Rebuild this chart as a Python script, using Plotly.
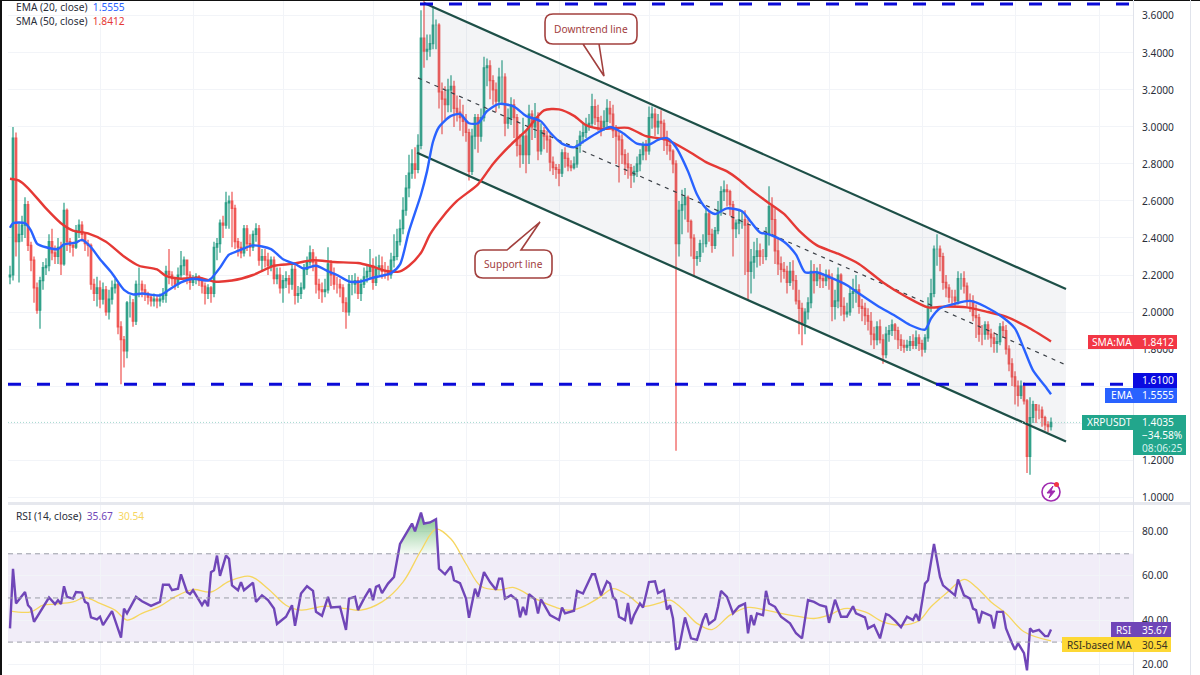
import plotly.graph_objects as go

# daily XRPUSDT candles
opens = [
    2.19,2.20,2.94,2.38,2.42,2.47,2.58,2.36,2.28,2.13,
    2.01,2.17,2.24,2.25,2.38,2.32,2.30,2.35,2.26,2.55,
    2.38,2.36,2.35,2.44,2.47,2.42,2.37,2.36,2.15,2.10,
    2.13,2.07,2.12,2.00,2.07,2.13,2.15,1.92,1.85,1.79,
    2.05,2.05,1.95,2.15,2.15,2.12,2.10,2.08,2.06,2.07,
    2.06,2.07,2.09,2.22,2.20,2.18,2.15,2.20,2.25,2.28,
    2.20,2.16,2.18,2.19,2.17,2.14,2.10,2.13,2.10,2.35,
    2.37,2.48,2.47,2.59,2.60,2.56,2.38,2.35,2.32,2.45,
    2.37,2.35,2.42,2.45,2.28,2.30,2.28,2.25,2.28,2.18,
    2.20,2.13,2.17,2.18,2.15,2.23,2.09,2.10,2.13,2.23,
    2.27,2.32,2.27,2.15,2.12,2.11,2.12,2.26,2.20,2.15,
    2.15,2.13,2.05,2.00,2.15,2.15,2.17,2.10,2.15,2.19,
    2.22,2.25,2.16,2.23,2.25,2.22,2.22,2.20,2.28,2.30,
    2.38,2.45,2.55,2.67,2.75,2.80,2.77,2.90,3.48,3.41,
    3.42,3.45,3.55,3.55,3.19,3.15,3.12,3.20,3.22,3.10,
    3.08,3.05,3.03,2.97,2.76,2.95,3.05,2.95,3.05,3.32,
    3.33,3.25,3.20,3.14,3.27,3.27,3.02,3.05,3.12,3.05,
    2.90,2.85,2.95,2.85,3.07,3.00,3.05,2.87,2.98,2.95,
    2.93,2.81,2.78,2.77,2.75,2.86,2.83,2.79,2.78,2.80,
    2.90,2.95,2.97,3.01,3.02,3.11,3.05,3.03,3.00,3.03,
    3.10,3.07,2.98,2.95,2.93,2.85,2.80,2.78,2.74,2.76,
    2.80,2.85,2.90,2.87,3.05,3.07,3.00,3.03,3.02,2.93,
    2.90,2.87,2.80,2.37,2.55,2.58,2.62,2.49,2.40,2.29,
    2.30,2.37,2.37,2.53,2.42,2.36,2.44,2.55,2.65,2.66,
    2.65,2.58,2.45,2.48,2.50,2.50,2.47,
    2.22,2.27,2.30,2.33,2.30,2.30,2.42,2.57,2.50,2.33,
    2.26,2.23,2.22,2.16,2.22,2.17,2.06,2.02,1.94,2.00,
    2.05,2.22,2.17,2.21,2.18,2.17,2.20,2.18,2.03,2.06,
    2.20,2.03,1.99,2.00,2.10,2.11,2.12,2.03,2.02,1.98,
    1.95,1.88,1.85,1.92,1.85,1.77,1.88,1.90,1.93,1.90,
    1.85,1.82,1.81,1.82,1.84,1.82,1.86,1.83,1.80,1.86,
    2.03,2.10,2.34,2.34,2.30,2.16,2.13,2.08,2.08,2.06,
    2.18,2.18,2.14,2.06,2.06,1.98,1.97,1.88,1.88,1.93,
    1.88,1.86,1.83,1.84,1.92,1.90,1.80,1.72,1.65,1.60,
    1.55,1.60,1.52,1.22,1.43,1.50,1.47,1.47,1.43,1.39,1.38,
]
closes = [
    2.20,2.94,2.38,2.42,2.47,2.58,2.36,2.28,2.13,2.01,
    2.17,2.24,2.25,2.38,2.32,2.30,2.35,2.26,2.55,2.38,
    2.36,2.35,2.44,2.47,2.42,2.37,2.36,2.15,2.10,2.13,
    2.07,2.12,2.00,2.07,2.13,2.15,1.92,1.85,1.79,2.05,
    2.05,1.95,2.15,2.15,2.12,2.10,2.08,2.06,2.07,2.06,
    2.07,2.09,2.22,2.20,2.18,2.15,2.20,2.25,2.28,2.20,
    2.16,2.18,2.19,2.17,2.14,2.10,2.13,2.10,2.35,2.37,
    2.48,2.47,2.59,2.60,2.56,2.38,2.35,2.32,2.45,2.37,
    2.35,2.42,2.45,2.28,2.30,2.28,2.25,2.28,2.18,2.20,
    2.13,2.17,2.18,2.15,2.23,2.09,2.10,2.13,2.23,2.27,
    2.32,2.27,2.15,2.12,2.11,2.12,2.26,2.20,2.15,2.15,
    2.13,2.05,2.00,2.15,2.15,2.17,2.10,2.15,2.19,2.22,
    2.25,2.16,2.23,2.25,2.22,2.22,2.20,2.28,2.30,2.38,
    2.45,2.55,2.67,2.75,2.80,2.77,2.90,3.48,3.41,3.42,
    3.45,3.55,3.55,3.19,3.15,3.12,3.20,3.22,3.10,3.08,
    3.05,3.03,2.97,2.76,2.95,3.05,2.95,3.05,3.32,3.33,
    3.25,3.20,3.14,3.27,3.27,3.02,3.05,3.12,3.05,2.90,
    2.85,2.95,2.85,3.07,3.00,3.05,2.87,2.98,2.95,2.93,
    2.81,2.78,2.77,2.75,2.86,2.83,2.79,2.78,2.80,2.90,
    2.95,2.97,3.01,3.02,3.11,3.05,3.03,3.00,3.03,3.10,
    3.07,2.98,2.95,2.93,2.85,2.80,2.78,2.74,2.76,2.80,
    2.85,2.90,2.87,3.05,3.07,3.00,3.03,3.02,2.93,2.90,
    2.87,2.80,2.37,2.55,2.58,2.62,2.49,2.40,2.29,2.30,
    2.37,2.37,2.53,2.42,2.36,2.44,2.55,2.65,2.66,2.65,
    2.58,2.45,2.48,2.50,2.50,2.47,2.22,
    2.27,2.30,2.33,2.30,2.30,2.42,2.57,2.50,2.33,2.26,
    2.23,2.22,2.16,2.22,2.17,2.06,2.02,1.94,2.00,2.05,
    2.22,2.17,2.21,2.18,2.17,2.20,2.18,2.03,2.06,2.20,
    2.03,1.99,2.00,2.10,2.11,2.12,2.03,2.02,1.98,1.95,
    1.88,1.85,1.92,1.85,1.77,1.88,1.90,1.93,1.90,1.85,
    1.82,1.81,1.82,1.84,1.82,1.86,1.83,1.80,1.86,2.03,
    2.10,2.34,2.34,2.30,2.16,2.13,2.08,2.08,2.06,2.18,
    2.18,2.14,2.06,2.06,1.98,1.97,1.88,1.88,1.93,1.88,
    1.86,1.83,1.84,1.92,1.90,1.80,1.72,1.65,1.60,1.55,
    1.60,1.52,1.22,1.43,1.50,1.47,1.47,1.43,1.39,1.38,1.4035,
]
highs = [
    2.25,3.00,2.97,2.48,2.52,2.62,2.60,2.38,2.30,2.16,
    2.19,2.27,2.29,2.42,2.45,2.36,2.40,2.38,2.59,2.56,
    2.40,2.38,2.47,2.50,2.49,2.43,2.39,2.37,2.18,2.19,
    2.17,2.16,2.14,2.12,2.17,2.18,2.16,1.95,1.87,2.06,
    2.09,2.07,2.17,2.24,2.17,2.15,2.11,2.09,2.10,2.09,
    2.10,2.13,2.25,2.34,2.22,2.19,2.24,2.33,2.30,2.28,
    2.22,2.20,2.21,2.20,2.18,2.16,2.15,2.14,2.38,2.40,
    2.50,2.52,2.65,2.63,2.65,2.58,2.40,2.38,2.47,2.47,
    2.42,2.44,2.48,2.47,2.34,2.34,2.32,2.30,2.30,2.24,
    2.24,2.20,2.22,2.20,2.26,2.27,2.14,2.16,2.26,2.30,
    2.36,2.34,2.30,2.18,2.16,2.18,2.35,2.28,2.24,2.19,
    2.18,2.15,2.08,2.20,2.20,2.21,2.19,2.18,2.24,2.25,
    2.34,2.29,2.30,2.31,2.30,2.27,2.25,2.32,2.42,2.45,
    2.50,2.62,2.74,2.85,2.88,2.89,2.96,3.63,3.68,3.50,
    3.50,3.65,3.58,3.56,3.24,3.22,3.26,3.28,3.25,3.17,
    3.15,3.12,3.07,2.99,2.99,3.07,3.07,3.10,3.38,3.37,
    3.36,3.28,3.24,3.32,3.36,3.29,3.10,3.16,3.15,3.07,
    2.96,3.05,2.98,3.12,3.09,3.13,3.08,3.02,3.00,2.98,
    2.96,2.84,2.80,2.80,2.88,2.89,2.86,2.82,2.84,2.93,
    2.98,3.02,3.05,3.07,3.18,3.15,3.12,3.06,3.09,3.15,
    3.14,3.12,3.01,2.98,2.96,2.88,2.86,2.80,2.79,2.84,
    2.88,2.92,2.93,3.11,3.11,3.10,3.07,3.09,3.04,2.98,
    2.92,2.88,2.82,2.60,2.66,2.67,2.63,2.50,2.42,2.33,
    2.39,2.42,2.56,2.54,2.45,2.46,2.60,2.68,2.71,2.69,
    2.66,2.60,2.50,2.55,2.54,2.55,2.50,
    2.34,2.38,2.40,2.37,2.34,2.46,2.68,2.62,2.56,2.40,
    2.30,2.27,2.25,2.27,2.28,2.20,2.12,2.05,2.02,2.08,
    2.28,2.26,2.24,2.26,2.21,2.23,2.23,2.21,2.12,2.24,
    2.21,2.08,2.05,2.13,2.18,2.20,2.15,2.07,2.05,2.02,
    2.00,1.92,1.95,1.96,1.88,1.92,1.93,1.96,1.94,1.92,
    1.88,1.85,1.85,1.87,1.88,1.90,1.88,1.85,1.88,2.08,
    2.18,2.36,2.42,2.36,2.32,2.20,2.15,2.12,2.12,2.22,
    2.21,2.22,2.16,2.10,2.09,2.04,1.99,1.93,1.95,1.95,
    1.91,1.89,1.88,1.94,1.95,1.93,1.82,1.75,1.68,1.63,
    1.63,1.62,1.53,1.54,1.52,1.50,1.50,1.49,1.44,1.41,1.43,
]
lows = [
    2.15,2.17,2.30,2.16,2.38,2.40,2.33,2.22,2.05,1.99,
    1.91,2.12,2.20,2.22,2.28,2.26,2.26,2.20,2.25,2.33,
    2.32,2.30,2.34,2.40,2.38,2.33,2.30,2.12,2.06,2.03,
    2.02,2.04,1.98,1.96,2.04,2.10,1.88,1.61,1.70,1.75,
    1.97,1.92,1.93,2.08,2.08,2.06,2.04,2.03,2.03,2.02,
    2.03,2.05,2.05,2.15,2.14,2.12,2.13,2.18,2.20,2.15,
    2.12,2.14,2.15,2.14,2.10,2.04,2.07,2.05,2.08,2.28,
    2.32,2.40,2.45,2.45,2.35,2.34,2.30,2.29,2.30,2.33,
    2.30,2.33,2.38,2.25,2.22,2.24,2.20,2.22,2.15,2.15,
    2.10,2.05,2.13,2.10,2.12,2.04,2.05,2.07,2.12,2.20,
    2.25,2.22,2.10,2.07,2.05,2.08,2.10,2.14,2.12,2.10,
    2.08,2.00,1.91,1.98,2.09,2.10,2.07,2.06,2.13,2.16,
    2.18,2.12,2.14,2.20,2.18,2.18,2.17,2.18,2.24,2.28,
    2.36,2.42,2.52,2.62,2.72,2.72,2.75,2.88,3.32,3.36,
    3.38,3.42,3.42,3.10,2.96,3.04,3.08,3.08,3.00,3.03,
    2.98,2.95,2.92,2.71,2.74,2.88,2.86,2.92,3.03,3.22,
    3.15,3.12,3.08,3.10,3.12,2.95,2.99,3.01,2.94,2.84,
    2.78,2.80,2.75,2.80,2.93,2.94,2.82,2.85,2.88,2.86,
    2.76,2.74,2.72,2.68,2.73,2.78,2.76,2.76,2.77,2.78,
    2.86,2.91,2.94,2.98,3.00,3.01,2.98,2.95,2.98,3.00,
    3.02,2.94,2.80,2.70,2.80,2.74,2.72,2.67,2.70,2.73,
    2.76,2.82,2.82,2.85,2.99,2.95,2.96,2.94,2.87,2.85,
    2.82,2.75,1.25,2.30,2.42,2.50,2.43,2.30,2.19,2.25,
    2.27,2.32,2.35,2.38,2.32,2.34,2.42,2.52,2.60,2.57,
    2.52,2.30,2.40,2.42,2.45,2.20,2.06,
    2.10,2.18,2.24,2.25,2.26,2.28,2.36,2.42,2.26,2.20,
    2.16,2.18,2.10,2.14,2.12,2.04,1.88,1.82,1.88,1.96,
    2.02,2.10,2.14,2.13,2.13,2.14,2.12,1.95,1.96,2.02,
    1.98,1.95,1.97,1.98,2.02,2.05,1.99,1.95,1.93,1.90,
    1.82,1.80,1.82,1.83,1.72,1.75,1.84,1.87,1.85,1.80,
    1.79,1.78,1.79,1.79,1.80,1.80,1.79,1.76,1.78,1.84,
    2.00,2.08,2.25,2.22,2.12,2.08,2.05,2.04,2.03,2.04,
    2.12,2.10,2.03,2.00,1.95,1.86,1.84,1.82,1.85,1.85,
    1.81,1.78,1.78,1.82,1.86,1.77,1.68,1.60,1.50,1.49,
    1.53,1.50,1.13,1.12,1.40,1.40,1.42,1.38,1.36,1.35,1.36,
]
days = list(range(len(closes)))
assert len(opens) == len(highs) == len(lows) == len(closes) == 348

# moving averages, picked off at the bends of each line
ema_x = [0,1,5,7,9,12,16,18,22,24,27,30,34,38,41,44,50,53,57,61,66,67,70,73,76,81,87,91,95,98,102,106,109,113,117,121,127,
         130,133,137,139,141,143,147,150,153,156,159,163,168,172,177,180,184,188,191,196,200,204,209,213,216,219,222,226,229,232,235,239,244,
         247,250,253,258,262,265,269,273,279,283,289,295,300,305,307,310,315,320,325,331,335,338,341,345,347]
ema_y = [2.455,2.48,2.48,2.44,2.37,2.35,2.34,2.365,2.375,2.39,2.35,2.285,2.21,2.12,2.095,2.10,2.09,2.12,2.16,2.18,2.17,2.18,2.24,2.31,2.33,2.36,2.34,2.285,2.26,2.235,2.25,2.22,2.20,2.165,2.165,2.185,2.21,
         2.257,2.437,2.635,2.76,2.92,3.00,3.06,3.07,3.02,3.02,3.085,3.125,3.11,3.06,3.03,2.97,2.91,2.89,2.92,2.97,3.00,2.97,2.91,2.905,2.93,2.94,2.89,2.76,2.635,2.56,2.53,2.56,2.545,
         2.486,2.43,2.42,2.38,2.31,2.215,2.215,2.19,2.145,2.10,2.035,1.98,1.93,1.905,1.965,2.02,2.045,2.06,2.03,1.97,1.91,1.80,1.685,1.60,1.5555]
sma_x = [0,3,6,12,17,21,26,32,38,43,49,52,57,63,68,74,81,88,94,101,108,116,120,126,
         130,133,137,140,144,149,156,161,167,172,178,183,188,192,197,206,212,219,226,232,239,243,247,
         252,258,263,269,276,283,291,299,306,312,319,326,332,339,347]
sma_y = [2.72,2.71,2.67,2.56,2.48,2.44,2.425,2.38,2.30,2.25,2.23,2.195,2.18,2.185,2.165,2.17,2.20,2.25,2.26,2.28,2.27,2.265,2.25,2.22,
         2.22,2.25,2.32,2.42,2.51,2.60,2.69,2.80,2.905,2.98,3.09,3.095,3.06,3.01,2.99,2.995,2.95,2.93,2.87,2.81,2.76,2.715,2.66,
         2.60,2.53,2.44,2.36,2.315,2.26,2.16,2.08,2.025,2.03,2.025,2.00,1.975,1.92,1.8412]

# channel drawn on the chart
upper_x = [138, 352]
upper_y = [3.67, 2.124]
lower_x = [135.7, 352]
lower_y = [2.86, 1.30]
mid_x = [136, 352]
mid_y = [3.265, 1.714]
support_level = 1.61
resistance_level = 3.665
last_price = 1.4035

# RSI pane
rsi_x = [0,1,2,5,6,7,8,10,13,15,16,17,18,19,21,22,24,25,26,27,29,30,31,34,36,37,38,39,42,44,47,50,51,53,54,56,57,59,60,61,64,65,66,67,68,69,70,72,73,74,76,77,78,81,82,84,86,88,89,92,94,95,97,99,101,102,104,106,107,110,112,113,115,116,118,120,121,122,123,124,126,128,
         130,132,134,135,137,138,140,142,143,145,147,148,150,152,153,155,156,158,160,162,163,164,165,167,169,170,171,172,173,175,176,177,180,183,184,185,188,189,191,194,195,197,
         199,200,201,202,203,205,206,207,208,210,211,213,215,216,218,219,220,221,222,223,225,227,229,231,232,233,235,236,237,239,241,243,245,246,247,248,249,251,252,253,255,257,259,260,262,264,266,268,270,272,273,275,277,279,281,282,285,286,288,290,292,293,295,297,299,301,302,303,305,306,308,310,311,313,315,316,318,320,321,322,323,324,327,328,329,331,332,334,335,336,338,339,340,341,343,345,346,347]
rsi_y = [36.2,63.2,47.5,52.7,46.7,45.2,39.2,43.7,50.2,47.2,49,47.2,55.3,50.5,49.7,52.7,52.4,48.2,47.5,41.2,40.3,41.5,37.7,44,35.5,32,45.2,43,50.5,48.5,46.4,48.2,56,56,53.5,54.2,60.7,52.7,51.7,53.5,46.7,49,46.2,61.7,62.5,69.2,60,69.2,67.7,55.7,53.5,57.2,53.5,56.9,48.2,51.2,49,45.2,38.2,41.5,46.7,37.4,52,55.3,53.2,43.7,41.9,50.5,45.7,46,35.5,49.7,50.5,44.5,49.7,54.2,49,55,55.7,52.2,56.5,59.5,
         74.5,79,83.7,80.2,88.7,83.7,84.2,85.7,63.2,60.7,64.2,58,56.7,49.7,41,54.2,50.5,61.7,57.2,53.7,58.7,58.7,49.7,51.2,49,41.2,46,42.2,51.7,49.4,43,49.4,42.2,40,45.7,43,44.2,53.2,52,60.7,60.7,51.2,
         57.5,56.5,50.5,49,41.5,40,47.7,38.2,42.2,47.5,45.7,57.2,57.5,52.2,53.5,44.7,46.7,40.7,26.9,27.2,41.2,31.7,31,40,43,38.2,40.3,46,53.2,50.5,43,46.2,47.5,34,42.2,37.7,43,42.2,53.2,47.5,46,41.5,39.7,38.5,34,31.7,49,48.2,46.7,46,38.7,49.2,41.5,41.5,46.2,43,41.2,36.2,37.7,31.7,42.7,42.2,39.7,36.7,41.5,40,42.7,39.7,56.5,58,74.5,59.5,55.7,53.5,51.2,58.4,51.2,49.7,45.2,44.5,38.5,43.7,41.9,36.2,43.7,43.7,36.2,29.5,26.5,29.5,25,17.2,36.2,34.7,35.5,32.7,32.7,35.67]
rsi_ma_x = [0,7,11,15,21,25,30,35,39,44,50,55,61,67,73,80,86,92,97,105,112,117,124,131,137,142,147,152,157,163,168,175,182,187,192,197,
            201,206,211,216,220,224,229,234,240,246,252,257,262,268,273,278,285,291,297,303,307,312,318,322,327,332,338,347]
rsi_ma_y = [44,43.7,46.7,47.2,48.2,50.2,47.5,44.5,40,43,46.3,50.5,53.8,52.7,57.5,59.8,54.2,46.7,44.5,46.3,45.2,44.5,48.2,57.2,71.5,81.2,76.7,65.5,55.3,53.7,54.7,49.7,45.7,44.5,46.7,50.7,
            54.2,51.2,46.3,47.5,49,45.2,38.5,35.7,42.2,45.7,44.5,43,41.8,40.7,42.2,45.2,43.7,39.2,37.7,39.7,46,52,58.4,55,48.2,43,34.7,30.54]
overbought_x = [129.4,130,132,134,135,137,138,140,142,142.7]
overbought_y = [70,74.5,79,83.7,80.2,88.7,83.7,84.2,85.7,70]

price_ticks = [1.0,1.2,1.4,1.6,1.8,2.0,2.2,2.4,2.6,2.8,3.0,3.2,3.4,3.6]
# 1.4 and 1.6 sit behind the price tags, only their grid lines show
price_tick_text = ['1.0000','1.2000','','','1.8000','2.0000','2.2000','2.4000','2.6000','2.8000','3.0000','3.2000','3.4000','3.6000']
rsi_ticks = [20,40,60,80]
month_ticks = [30,61,91,121,152,183,213,243,273,304,335,363]

UP = '#2b9e86'
DOWN = '#ef5350'
BLUE = '#2962ff'
RED = '#e53935'
PURPLE = '#7046b8'
YELLOW = '#f6d65f'
TEXT = '#2a2e39'
NOTE = '#a2403e'
FONT = 'Noto Sans'


def xp(px):
    return px / 1200


def yp(py):
    return 1 - py / 675


def box(x0, y0, x1, y1, color):
    return dict(type='rect', xref='paper', yref='paper', x0=xp(x0), x1=xp(x1), y0=yp(y0), y1=yp(y1),
                fillcolor=color, line_width=0, layer='above')


def label(x, y, text, color='white', size=10.2, anchor='left'):
    return dict(xref='paper', yref='paper', x=xp(x), y=yp(y), text=text, showarrow=False, xanchor=anchor,
                yanchor='middle', font=dict(family=FONT, size=size, color=color))


def bubble(x0, y0, x1, y1, tail, top_side):
    # rounded box with a pointer, tail = (base a, tip, base b) in pixels
    r = 8
    (ax, ay), (tx, ty), (bx, by) = tail
    pts = f'M {xp(x0 + r)} {yp(y0)} '
    if top_side:
        pts += f'L {xp(ax)} {yp(ay)} L {xp(tx)} {yp(ty)} L {xp(bx)} {yp(by)} '
    pts += f'L {xp(x1 - r)} {yp(y0)} Q {xp(x1)} {yp(y0)} {xp(x1)} {yp(y0 + r)} '
    pts += f'L {xp(x1)} {yp(y1 - r)} Q {xp(x1)} {yp(y1)} {xp(x1 - r)} {yp(y1)} '
    if not top_side:
        pts += f'L {xp(bx)} {yp(by)} L {xp(tx)} {yp(ty)} L {xp(ax)} {yp(ay)} '
    pts += f'L {xp(x0 + r)} {yp(y1)} Q {xp(x0)} {yp(y1)} {xp(x0)} {yp(y1 - r)} '
    pts += f'L {xp(x0)} {yp(y0 + r)} Q {xp(x0)} {yp(y0)} {xp(x0 + r)} {yp(y0)} Z'
    return dict(type='path', xref='paper', yref='paper', path=pts, fillcolor='white',
                line=dict(color=NOTE, width=1.6), layer='above')


fig = go.Figure()

# grey channel body sits under the candles
fig.add_trace(go.Scatter(x=[upper_x[0], upper_x[1], lower_x[1], lower_x[0]],
                         y=[upper_y[0], upper_y[1], lower_y[1], lower_y[0]],
                         fill='toself', fillcolor='rgba(120,135,150,0.09)', mode='none'))
fig.add_trace(go.Candlestick(x=days, open=opens, high=highs, low=lows, close=closes, whiskerwidth=0,
                             increasing=dict(line=dict(color=UP, width=1.2), fillcolor=UP),
                             decreasing=dict(line=dict(color=DOWN, width=1.2), fillcolor=DOWN)))
fig.add_trace(go.Scatter(x=mid_x, y=mid_y, mode='lines', line=dict(color='#3a3f46', width=1.2, dash='4px,5px')))
fig.add_trace(go.Scatter(x=upper_x, y=upper_y, mode='lines', line=dict(color='#1d4f47', width=2.2)))
fig.add_trace(go.Scatter(x=lower_x, y=lower_y, mode='lines', line=dict(color='#1d4f47', width=2.2)))
fig.add_trace(go.Scatter(x=sma_x, y=sma_y, mode='lines', line=dict(color=RED, width=2.4, shape='spline', smoothing=0.7)))
fig.add_trace(go.Scatter(x=ema_x, y=ema_y, mode='lines', line=dict(color=BLUE, width=2.4, shape='spline', smoothing=0.7)))

fig.add_trace(go.Scatter(x=overbought_x, y=overbought_y, yaxis='y2', fill='toself', mode='none',
                         fillgradient=dict(type='vertical', colorscale=[[0, 'rgba(76,175,80,0.05)'], [1, 'rgba(56,160,80,0.7)']])))
fig.add_trace(go.Scatter(x=rsi_ma_x, y=rsi_ma_y, yaxis='y2', mode='lines', line=dict(color=YELLOW, width=1.3, shape='spline')))
fig.add_trace(go.Scatter(x=rsi_x, y=rsi_y, yaxis='y2', mode='lines', line=dict(color=PURPLE, width=2.4)))

shapes = [
    # RSI band and levels
    dict(type='rect', xref='x domain', x0=0, x1=1, yref='y2', y0=30, y1=70, fillcolor='rgba(126,87,194,0.11)', line_width=0, layer='below'),
    dict(type='line', xref='x domain', x0=0, x1=1, yref='y2', y0=70, y1=70, line=dict(color='#9a9da6', width=1, dash='5px,4px')),
    dict(type='line', xref='x domain', x0=0, x1=1, yref='y2', y0=50, y1=50, line=dict(color='#9a9da6', width=1, dash='5px,4px')),
    dict(type='line', xref='x domain', x0=0, x1=1, yref='y2', y0=30, y1=30, line=dict(color='#9a9da6', width=1, dash='5px,4px')),
    # price levels
    dict(type='line', xref='x domain', x0=0, x1=1, yref='y', y0=support_level, y1=support_level, line=dict(color='#0a0ad8', width=3, dash='13px,16px')),
    dict(type='line', xref='paper', x0=xp(420), x1=xp(1133), yref='y', y0=resistance_level, y1=resistance_level, line=dict(color='#0a0ad8', width=3, dash='13px,16px')),
    dict(type='line', xref='x domain', x0=0, x1=1, yref='y', y0=last_price, y1=last_price, line=dict(color='#a5d8ce', width=1, dash='1px,2px')),
    # frame
    box(0, 0, 2, 675, '#111111'),
    box(0, 0, 1200, 1, '#111111'),
    box(8, 502, 1190, 505, '#e6e8ee'),
    box(1133, 0, 1134, 675, '#e0e3eb'),
    box(1190, 0, 1191, 675, '#e0e3eb'),
    # axis price tags
    box(1088, 335, 1177, 349, '#f23645'),
    box(1133, 373, 1177, 388, '#0a0ae0'),
    box(1105, 388, 1177, 403, BLUE),
    box(1082, 415, 1133, 430, '#22a68c'),
    box(1133, 415, 1186, 455, '#22a68c'),
    box(1111, 622, 1171, 637, PURPLE),
    box(1062, 637, 1171, 652, '#fdd835'),
    # callouts
    bubble(545, 14, 637, 44, ((599, 44), (604, 76), (583, 44)), False),
    bubble(475, 250, 552, 278, ((507, 250), (540, 222), (521, 250)), True),
    # flash icon near the last candle
    dict(type='circle', xref='paper', yref='paper', x0=xp(1042), x1=xp(1060), y0=yp(483), y1=yp(501),
         line=dict(color='#a02bb0', width=1.6), fillcolor='white', layer='above'),
    dict(type='path', xref='paper', yref='paper', layer='above', fillcolor='#a02bb0', line=dict(color='#a02bb0', width=1),
         path=f'M {xp(1053)} {yp(486)} L {xp(1047)} {yp(493)} L {xp(1051)} {yp(493)} L {xp(1049)} {yp(498)} L {xp(1055)} {yp(491)} L {xp(1051)} {yp(491)} Z'),
    dict(type='circle', xref='paper', yref='paper', x0=xp(1054), x1=xp(1059), y0=yp(482), y1=yp(487),
         fillcolor='#f23645', line_width=0, layer='above'),
]

annotations = [
    label(14, 7, f'EMA (20, close)  <span style="color:{BLUE}">1.5555</span>', TEXT),
    label(14, 21, f'SMA (50, close)  <span style="color:{RED}">1.8412</span>', TEXT),
    label(14, 516, f'RSI (14, close)  <span style="color:{PURPLE}">35.67</span>  <span style="color:{YELLOW}">30.54</span>', TEXT),
    label(591, 29, 'Downtrend line', NOTE, 10.2, 'center'),
    label(513, 264, 'Support line', NOTE, 10.2, 'center'),
    label(1090, 342, 'SMA:MA'),
    label(1140, 342, '1.8412'),
    label(1140, 380, '1.6100'),
    label(1109, 395, 'EMA'),
    label(1140, 395, '1.5555'),
    label(1085, 422, 'XRPUSDT'),
    label(1140, 422, '1.4035'),
    label(1140, 435, '\u221234.58%'),
    label(1140, 448, '08:06:25', '#d5f2ec'),
    label(1114, 630, 'RSI', 'white', 10),
    label(1140, 630, '35.67', 'white', 10),
    label(1065, 645, 'RSI-based MA', '#3a3320', 10),
    label(1140, 645, '30.54', '#3a3320', 10),
]

grid = '#f2f4f8'
fig.update_layout(
    width=1200,
    height=675,
    margin=dict(l=0, r=0, t=0, b=0),
    paper_bgcolor='white',
    plot_bgcolor='white',
    showlegend=False,
    hovermode=False,
    font=dict(family=FONT, color=TEXT, size=10.2),
    shapes=shapes,
    annotations=annotations,
    xaxis=dict(domain=[xp(8), xp(1133)], range=[-0.667, 374.33], tickvals=month_ticks, showticklabels=False, showgrid=True,
               gridcolor=grid, zeroline=False, rangeslider=dict(visible=False), ticks=''),
    yaxis=dict(domain=[yp(503), 1], range=[0.968, 3.686], side='right', tickvals=price_ticks, ticktext=price_tick_text,
               showgrid=True, gridcolor=grid, zeroline=False, ticks='', ticklabelstandoff=8),
    yaxis2=dict(domain=[0, yp(505)], range=[15.1, 92.1], side='right', tickvals=rsi_ticks, tickformat='.2f',
                showgrid=True, gridcolor=grid, zeroline=False, ticks='', ticklabelstandoff=8),
)

fig.write_html("out.html", config=dict(displayModeBar=False), post_script="document.body.style.margin='0';")
